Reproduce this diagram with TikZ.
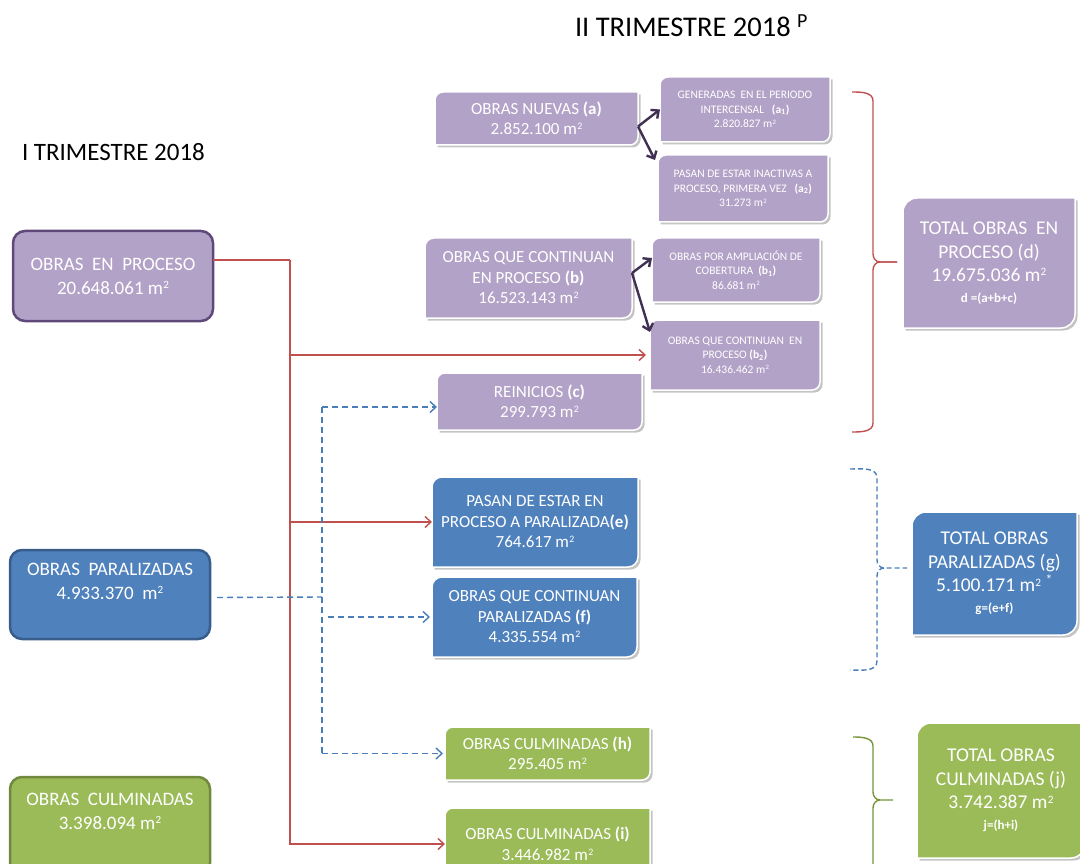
\documentclass[tikz,border=0pt]{standalone}
\usepackage{fontspec}
\setmainfont{Carlito}
\usetikzlibrary{arrows.meta,backgrounds}

\definecolor{cb2a2c7}{RGB}{178,162,199}
\definecolor{c5f497a}{RGB}{95,73,122}
\definecolor{c4f81bd}{RGB}{79,129,189}
\definecolor{c385d8a}{RGB}{56,93,138}
\definecolor{c9bbb59}{RGB}{155,187,89}
\definecolor{c71893f}{RGB}{113,137,63}
\definecolor{cc0504d}{RGB}{192,80,77}
\definecolor{c4a7ebb}{RGB}{74,126,187}
\definecolor{c403152}{RGB}{64,49,82}
\definecolor{c77933c}{RGB}{119,147,60}
\definecolor{cc4c4c4}{RGB}{196,196,196}

\newcommand{\msq}{m\kern0.3pt\raisebox{0.3em}{\scalebox{0.58}{2}}}

% box with rounded top left and bottom right corners
\newcommand{\snipbox}[3]{%
  \fill[cc4c4c4,transform canvas={xshift=2.5pt,yshift=-2.5pt}] ([yshift=-#3]#1.north west)
    arc[start angle=180,end angle=90,radius=#3] -- (#1.north east) -- ([yshift=#3]#1.south east)
    arc[start angle=0,end angle=-90,radius=#3] -- (#1.south west) -- cycle;
  \path[draw=white,line width=1.5pt,fill=#2] ([yshift=-#3]#1.north west)
    arc[start angle=180,end angle=90,radius=#3] -- (#1.north east) -- ([yshift=#3]#1.south east)
    arc[start angle=0,end angle=-90,radius=#3] -- (#1.south west) -- cycle;}

\begin{document}
\begin{tikzpicture}[x=1pt, y=-1pt, inner sep=0pt, outer sep=0pt,
  leftbox/.style={draw, line width=2.5pt, rounded corners=12pt, text=white, align=center,
    minimum width=200pt, font={\fontsize{19}{24}\selectfont}},
  midbox/.style={text=white, align=center, font={\fontsize{17}{20.5}\selectfont}},
  smallbox/.style={text=white, align=center, font={\fontsize{11.5}{14.5}\selectfont}},
  totbox/.style={text=white, align=center, font={\fontsize{19.5}{23.5}\selectfont}},
  redline/.style={draw=cc0504d, line width=1.4pt},
  redarr/.style={redline, -{Straight Barb[length=6pt,width=11pt]}},
  bluedash/.style={draw=c4a7ebb, line width=1.4pt, dash pattern=on 6pt off 4pt},
  bluearr/.style={bluedash, -{Straight Barb[length=6pt,width=11pt]}},
  darkarr/.style={draw=c403152, line width=2.4pt, -{Straight Barb[length=6pt,width=11pt]}}]
  \useasboundingbox (0,0) rectangle (1080,864);

  \node[anchor=base west, font={\fontsize{28.5}{34}\selectfont}] (tit2) at (575,37)
    {II TRIMESTRE 2018 \textsuperscript{P}};
  \node[anchor=base west, font={\fontsize{25}{30}\selectfont}] (tit1) at (22,161)
    {I TRIMESTRE 2018};

  % I trimestre
  \node[leftbox, fill=cb2a2c7, draw=c5f497a, minimum height=90pt] (proc1) at (113,276)
    {OBRAS \ EN \ PROCESO\\20.648.061 \msq};
  \node[leftbox, fill=c4f81bd, draw=c385d8a, minimum height=89pt, text depth=26pt] (par1) at (110,594.5)
    {OBRAS \ PARALIZADAS\\4.933.370 \ \msq};
  \node[leftbox, fill=c9bbb59, draw=c71893f, minimum height=98pt, text depth=30pt] (cul1) at (110,826)
    {OBRAS \ CULMINADAS\\3.398.094 \msq};

  % II trimestre
  \node[midbox, minimum width=203pt, minimum height=53pt] (nuevas) at (536.5,118.5)
    {OBRAS NUEVAS \textbf{(a)}\\2.852.100 \msq};
  \node[smallbox, minimum width=170pt, minimum height=65pt] (gen) at (745,109.5)
    {GENERADAS \ EN EL PERIODO\\INTERCENSAL \ \ \textbf{(a\textsubscript{1})}\\2.820.827 \msq};
  \node[smallbox, minimum width=170pt, minimum height=67pt] (inact) at (743,188.5)
    {PASAN DE ESTAR INACTIVAS A\\PROCESO, PRIMERA VEZ \ \ \textbf{(a\textsubscript{2})}\\31.273 \msq};
  \node[midbox, minimum width=207pt, minimum height=80pt] (cont) at (528.5,278)
    {OBRAS QUE CONTINUAN\\EN PROCESO \textbf{(b)}\\16.523.143 \msq};
  \node[smallbox, minimum width=168pt, minimum height=64pt] (ampl) at (736,270)
    {OBRAS POR AMPLIACIÓN DE\\COBERTURA \ \textbf{(b\textsubscript{1})}\\86.681 \msq};
  \node[smallbox, minimum width=170pt, minimum height=70pt] (contp) at (735,355)
    {OBRAS QUE CONTINUAN \ EN\\PROCESO \textbf{(b\textsubscript{2})}\\16.436.462 \msq};
  \node[midbox, minimum width=205pt, minimum height=57pt] (reini) at (539.5,401.5)
    {REINICIOS \textbf{(c)}\\299.793 \msq};
  \node[midbox, minimum width=206pt, minimum height=90pt] (pasan) at (535,522)
    {PASAN DE ESTAR EN\\PROCESO A PARALIZADA\textbf{(e)}\\764.617 \msq};
  \node[midbox, minimum width=205pt, minimum height=80pt] (contpar) at (534.5,617)
    {OBRAS QUE CONTINUAN\\PARALIZADAS \textbf{(f)}\\4.335.554 \msq};
  \node[midbox, minimum width=205pt, minimum height=53pt] (culh) at (547.5,753.5)
    {OBRAS CULMINADAS \textbf{(h)}\\295.405 \msq};
  \node[midbox, minimum width=205pt, minimum height=72pt] (culi) at (547.5,844)
    {OBRAS CULMINADAS \textbf{(i)}\\3.446.982 \msq};

  % totales
  \node[totbox, minimum width=172pt, minimum height=130pt] (totd) at (989,263)
    {TOTAL OBRAS \ EN\\PROCESO (d)\\19.675.036 \msq\\[-3pt]{\fontsize{13}{15}\selectfont\bfseries d =(a+b+c)}};
  \node[totbox, minimum width=165pt, minimum height=123pt] (totg) at (994.5,573.5)
    {TOTAL OBRAS\\PARALIZADAS (g)\\5.100.171 \msq\ \textsuperscript{*}\\[-3pt]{\fontsize{13}{15}\selectfont\bfseries g=(e+f)}};
  \node[totbox, minimum width=168pt, minimum height=135pt] (totj) at (1001,790.5)
    {TOTAL OBRAS\\CULMINADAS (j)\\3.742.387 \msq\\[-3pt]{\fontsize{13}{15}\selectfont\bfseries j=(h+i)}};

  \begin{scope}[on background layer]
    \foreach \n/\c/\r in {nuevas/cb2a2c7/8pt, gen/cb2a2c7/8pt, inact/cb2a2c7/8pt, cont/cb2a2c7/9pt,
      ampl/cb2a2c7/8pt, contp/cb2a2c7/8pt, reini/cb2a2c7/8pt, pasan/c4f81bd/10pt, contpar/c4f81bd/10pt,
      culh/c9bbb59/8pt, culi/c9bbb59/8pt, totd/cb2a2c7/14pt, totg/c4f81bd/14pt, totj/c9bbb59/14pt}
      {\snipbox{\n}{\c}{\r}}
  \end{scope}

  % conectores
  \draw[darkarr] ([yshift=-8pt]nuevas.east) -- (gen.west);
  \draw[darkarr] ([yshift=-8pt]nuevas.east) -- ([shift={(-3pt,-5pt)}]inact.north west);
  \draw[darkarr] ([yshift=5pt]cont.east) -- ([yshift=12pt]ampl.west);
  \draw[darkarr] ([yshift=5pt]cont.east) -- ([yshift=-12pt]contp.north west);

  \coordinate (rj) at (290,260);
  \draw[redline] ([yshift=16pt]proc1.east) -- (rj);
  \draw[redarr] (rj) |- (culi.west);
  \draw[redarr] (rj |- contp.west) -- ([xshift=-4pt]contp.west);
  \draw[redarr] (rj |- pasan.west) -- (pasan.west);

  \coordinate (bj) at (322,597);
  \coordinate (bt) at (322,407);
  \draw[bluedash] ([xshift=7pt,yshift=-3pt]par1.east) -- (bj);
  \draw[bluedash] (bt) -- (bj |- culh.west);
  \draw[bluearr] (bt) -- (bt -| reini.west);
  \draw[bluearr] ([xshift=6pt]bj |- contpar.west) -- ([xshift=-2pt]contpar.west);
  \draw[bluearr] (bj |- culh.west) -- ([xshift=-2pt]culh.west);

  % llaves
  \draw[cc0504d, line width=1.4pt] (852,92) to[out=0,in=90] (873,101) -- (873,254)
    to[out=-90,in=180] (880,262) -- (897,262);
  \draw[cc0504d, line width=1.4pt] (897,262) -- (880,262) to[out=180,in=90] (873,270)
    -- (873,423) to[out=-90,in=0] (852,432);
  \draw[c4a7ebb, line width=1.4pt, dash pattern=on 5pt off 3pt] (850,469) to[out=0,in=90] (877,478)
    -- (877,560) to[out=-90,in=180] (884,568) -- (907,568);
  \draw[c4a7ebb, line width=1.4pt, dash pattern=on 5pt off 3pt] (884,568) to[out=180,in=90] (877,576)
    -- (877,661) to[out=-90,in=0] (850,670);
  \draw[c77933c, line width=1.4pt] (853,737) to[out=0,in=90] (873,746) -- (873,792)
    to[out=-90,in=180] (880,800) -- (893,800);
  \draw[c77933c, line width=1.4pt] (880,800) to[out=180,in=90] (873,808) -- (873,864);
\end{tikzpicture}
\end{document}
